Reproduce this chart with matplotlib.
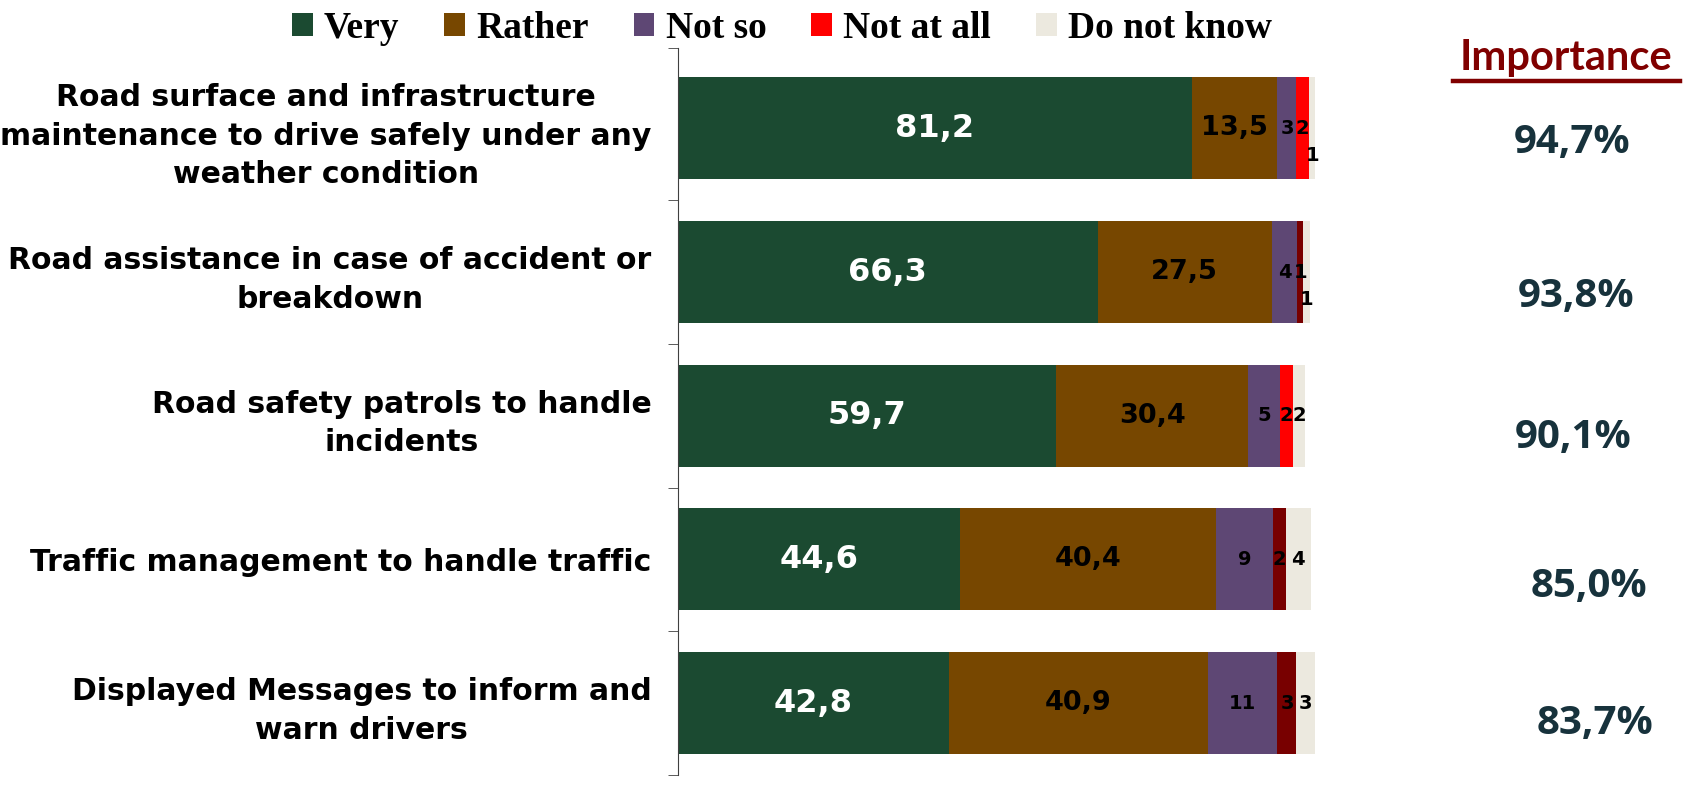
import matplotlib
matplotlib.use("Agg")
import matplotlib.pyplot as plt
from matplotlib.patches import Patch
from matplotlib.lines import Line2D
import matplotlib.transforms as mtrans
import numpy as np

# survey data: share of answers per service (in %)
categories = [
    "Road surface and infrastructure\nmaintenance to drive safely under any\nweather condition",
    "Road assistance in case of accident or\nbreakdown",
    "Road safety patrols to handle\nincidents",
    "Traffic management to handle traffic",
    "Displayed Messages to inform and\nwarn drivers",
]
answers = ["Very", "Rather", "Not so", "Not at all", "Do not know"]
very = [81.2, 66.3, 59.7, 44.6, 42.8]
rather = [13.5, 27.5, 30.4, 40.4, 40.9]
not_so = [3, 4, 5, 9, 11]
not_at_all = [2, 1, 2, 2, 3]
dont_know = [1, 1, 2, 4, 3]
importance = [94.7, 93.8, 90.1, 85.0, 83.7]

# colours
c_very = "#1b4a31"
c_rather = "#774700"
c_notso = "#5e4774"
c_red = "#ff0000"
c_maroon = "#780000"
c_dk = "#ece9df"
notall_colors = [c_red, c_maroon, c_red, c_maroon, c_maroon]
imp_color = "#17323c"

# nudges for the importance column (figure px, data units)
imp_dx = [-4, 0, -3, 13, 19]
imp_dy = [0.1, 0.17, 0.15, 0.19, 0.14]


def fmt(v):
    return f"{v:.1f}".replace(".", ",")


fig = plt.figure(figsize=(16.93, 7.86), dpi=100)
W, H = 1693, 786
ax = fig.add_axes([678 / W, 1 - 775 / H, (6.33 * 101) / W, (775 - 48) / H])

y = np.arange(len(categories))
hgt = 0.71
series = [very, rather, not_so, not_at_all, dont_know]
cols = [c_very, c_rather, c_notso, None, c_dk]
left = np.zeros(len(categories))
for k, vals in enumerate(series):
    vals = np.array(vals, dtype=float)
    color = notall_colors if k == 3 else cols[k]
    bars = ax.barh(y, vals, left=left, height=hgt, color=color, clip_on=False)
    for i, (b, v) in enumerate(zip(bars, vals)):
        cx = left[i] + v / 2
        cy = y[i]
        if k == 0:
            ax.text(cx, cy, fmt(v), ha="center", va="center", color="white",
                    fontsize=23, fontweight="bold")
        elif k == 1:
            ax.text(cx, cy, fmt(v), ha="center", va="center", color="black",
                    fontsize=19.5, fontweight="bold")
        else:
            if k == 4 and v <= 1:
                cy = cy + 0.19
            ax.text(cx, cy, f"{v:.0f}", ha="center", va="center",
                    color="black", fontsize=14, fontweight="bold")
    left += vals

ax.set_xlim(0, 101)
ax.set_ylim(len(categories) - 0.5, -0.56)
for s in ["top", "right", "bottom"]:
    ax.spines[s].set_visible(False)
ax.spines["left"].set_color("#404040")
ax.set_xticks([])
ax.set_yticks(y)
ax.set_yticklabels(categories, fontsize=21.5, fontweight="bold",
                   multialignment="center", linespacing=1.42)
ax.tick_params(axis="y", which="major", length=0, pad=19)
ax.set_yticks([-0.56, 0.5, 1.5, 2.5, 3.5, 4.5], minor=True)
ax.tick_params(axis="y", which="minor", length=7, direction="out",
               color="#404040")

# importance column
trans = mtrans.blended_transform_factory(fig.transFigure, ax.transData)
for i, v in enumerate(importance):
    ax.text((1576 + imp_dx[i]) / W, y[i] + imp_dy[i], f"{v:.1f}%".replace(".", ","),
            transform=trans, ha="center", va="center", color=imp_color,
            fontsize=29, fontweight="bold", family="Open Sans")

fig.text(1566 / W, 1 - 58 / H, "Importance", ha="center", va="center",
         color="#800000", fontsize=30, fontweight="bold", family="Lato")
fig.add_artist(Line2D([1453 / W, 1680 / W], [1 - 81 / H, 1 - 81 / H],
                      color="#800000", linewidth=3.2))

handles = [Patch(facecolor=c) for c in [c_very, c_rather, c_notso, c_red, c_dk]]
fig.legend(handles, answers, loc="center left", bbox_to_anchor=(292 / W, 1 - 28 / H),
           ncol=5, frameon=False, handlelength=0.55, handleheight=0.55,
           handletextpad=0.3, columnspacing=1.2, borderpad=0, borderaxespad=0,
           prop={"family": "Liberation Serif", "weight": "bold", "size": 27})

fig.savefig("out.png", dpi=100)
